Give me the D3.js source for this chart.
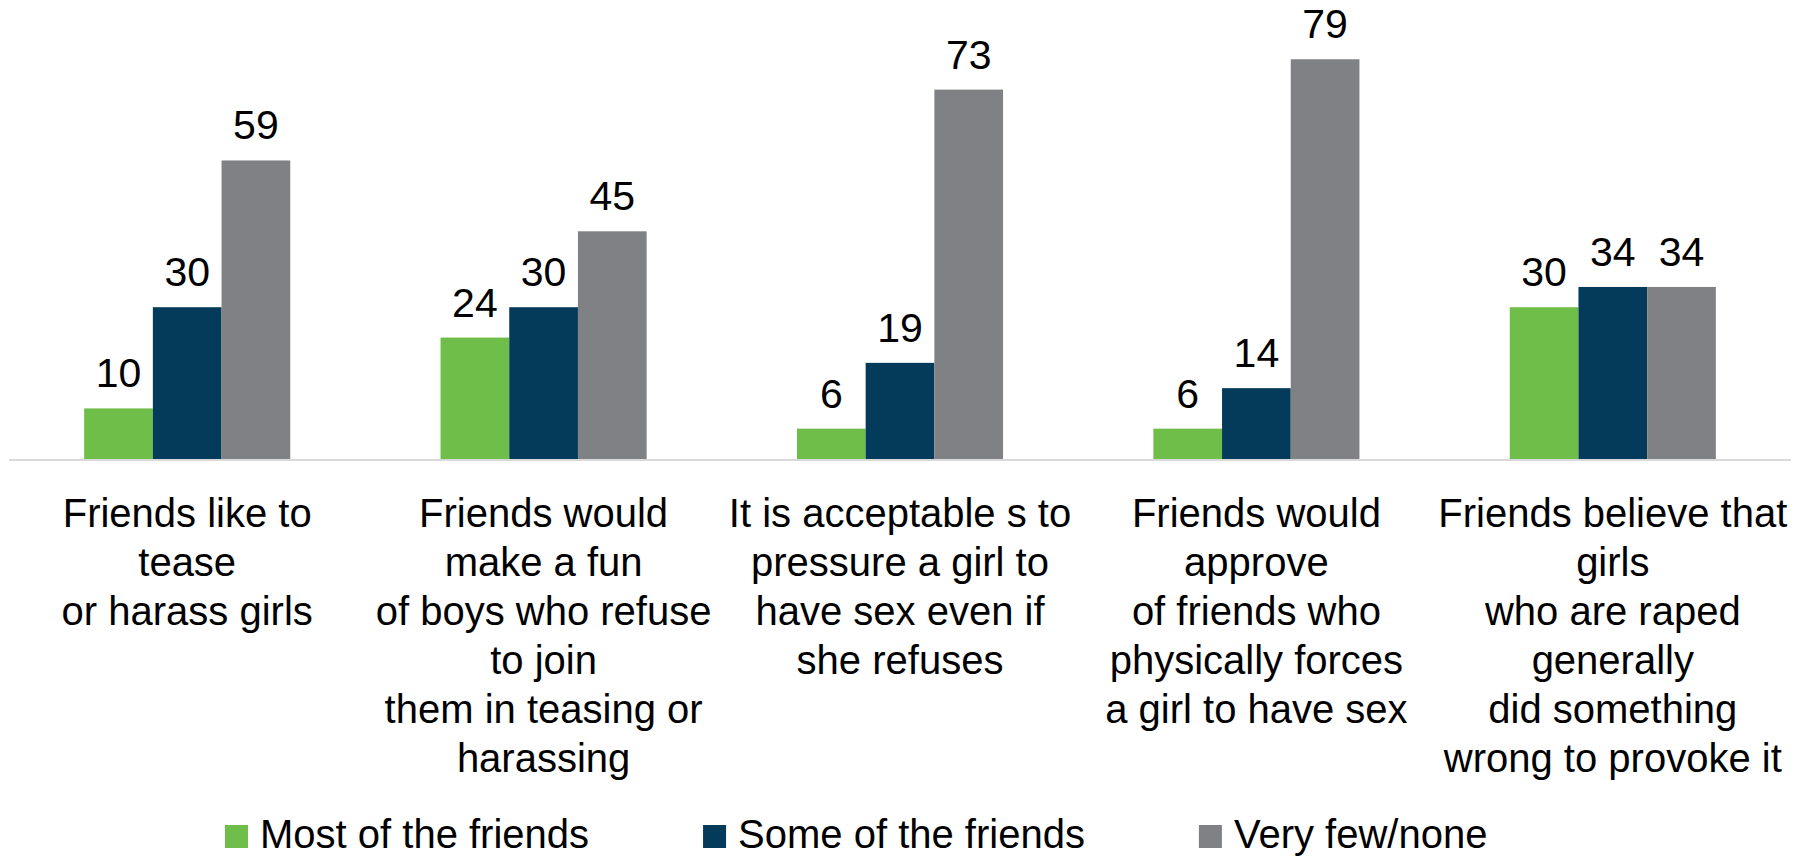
<!DOCTYPE html>
<html>
<head>
<meta charset="utf-8">
<script src="https://cdn.jsdelivr.net/npm/d3@7/dist/d3.min.js"></script>
<style>
  html, body { margin: 0; padding: 0; background: #ffffff; }
  svg { display: block; font-family: "Liberation Sans", Arial, sans-serif; }
</style>
</head>
<body>
<svg id="chart" width="1808" height="856"></svg>
<script>
// Survey categories, one label line per array entry
const categories = [
  ["Friends like to", "tease", "or harass girls"],
  ["Friends would", "make a fun", "of boys who refuse", "to join", "them in teasing or", "harassing"],
  ["It is acceptable s to", "pressure a girl to", "have sex even if", "she refuses"],
  ["Friends would", "approve", "of friends who", "physically forces", "a girl to have sex"],
  ["Friends believe that", "girls", "who are raped", "generally", "did something", "wrong to provoke it"]
];
const seriesNames = ["Most of the friends", "Some of the friends", "Very few/none"];
const mostFriends = [10, 24, 6, 6, 30];
const someFriends = [30, 30, 19, 14, 34];
const veryFewNone = [59, 45, 73, 79, 34];
const seriesColors = ["#6fbe4a", "#043b5a", "#808184"];

const seriesValues = [mostFriends, someFriends, veryFewNone];
const catKeys = categories.map((c, i) => "c" + i);

const svg = d3.select("#chart");

const x0 = d3.scaleBand().domain(catKeys).range([9, 1791]).paddingInner(0).paddingOuter(0);
const x1 = d3.scaleBand().domain(seriesNames).range([0, x0.bandwidth()])
  .paddingInner(0).paddingOuter(1.094);
const y = d3.scaleLinear().domain([0, 90]).range([459, 3.6]);

// Baseline
svg.append("line")
  .attr("x1", x0.range()[0]).attr("x2", x0.range()[1])
  .attr("y1", y(0) + 1).attr("y2", y(0) + 1)
  .attr("stroke", "#d9d9d9").attr("stroke-width", 2);

const rows = [];
catKeys.forEach((k, ci) => {
  seriesNames.forEach((s, si) => {
    rows.push({ cat: k, series: s, si, value: seriesValues[si][ci] });
  });
});

const groups = svg.append("g");
groups.selectAll("rect").data(rows).join("rect")
  .attr("x", d => x0(d.cat) + x1(d.series))
  .attr("width", x1.bandwidth())
  .attr("y", d => y(d.value))
  .attr("height", d => y(0) - y(d.value))
  .attr("fill", d => seriesColors[d.si]);

svg.append("g").selectAll("text").data(rows).join("text")
  .attr("x", d => x0(d.cat) + x1(d.series) + x1.bandwidth() / 2)
  .attr("y", d => y(d.value) - 21)
  .attr("text-anchor", "middle")
  .attr("font-size", 41)
  .attr("fill", "#000")
  .text(d => d.value);

// Category labels
const catG = svg.append("g");
categories.forEach((lines, ci) => {
  const t = catG.append("text")
    .attr("x", x0(catKeys[ci]) + x0.bandwidth() / 2)
    .attr("y", 527)
    .attr("text-anchor", "middle")
    .attr("font-size", 40)
    .attr("fill", "#000");
  lines.forEach((ln, li) => {
    t.append("tspan")
      .attr("x", x0(catKeys[ci]) + x0.bandwidth() / 2)
      .attr("dy", li === 0 ? 0 : 49)
      .text(ln);
  });
});

// Legend
const legend = svg.append("g");
let lx = 225;
seriesNames.forEach((name, i) => {
  legend.append("rect")
    .attr("x", lx).attr("y", 825).attr("width", 23).attr("height", 23)
    .attr("fill", seriesColors[i]);
  const t = legend.append("text")
    .attr("x", lx + 35).attr("y", 848)
    .attr("font-size", 40).attr("fill", "#000")
    .text(name);
  lx += 35 + t.node().getComputedTextLength() + 114;
});
</script>
</body>
</html>
